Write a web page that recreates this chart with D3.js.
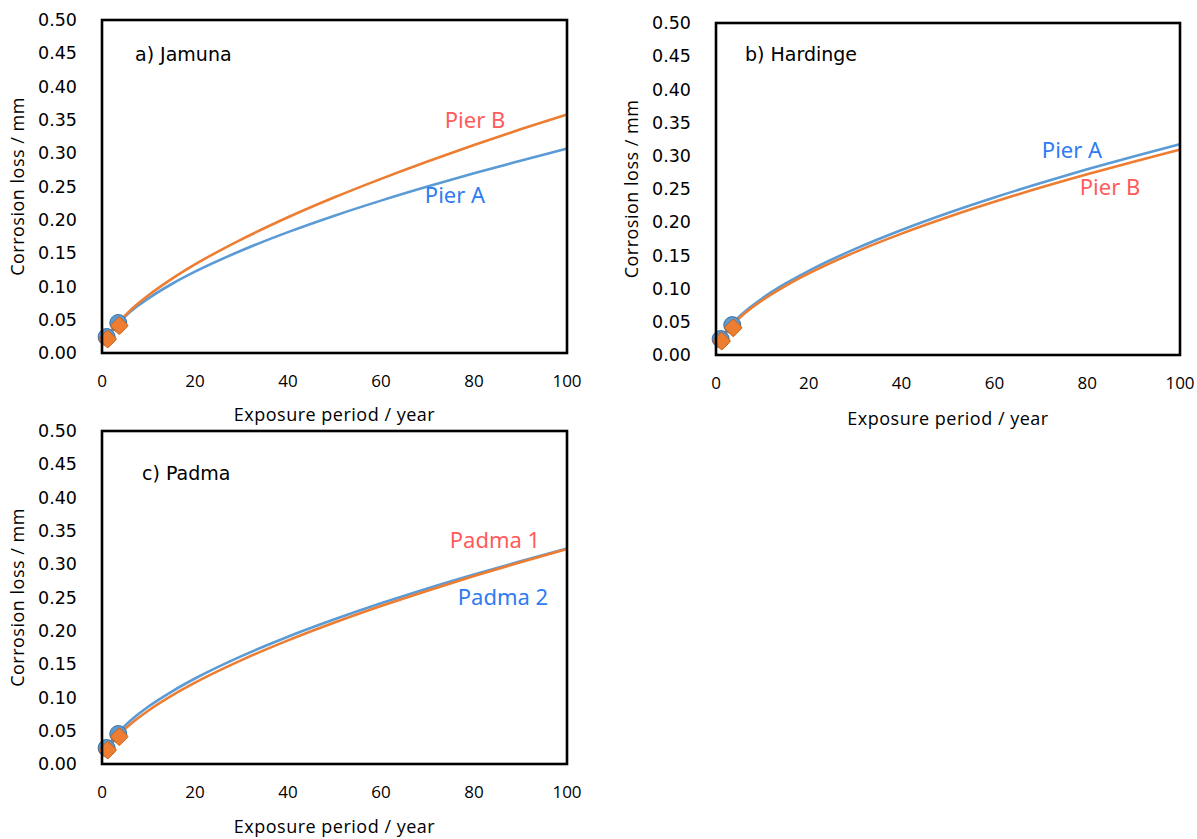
<!DOCTYPE html>
<html>
<head>
<meta charset="utf-8">
<script src="https://cdn.jsdelivr.net/npm/d3@7"></script>
<style>
  body { margin: 0; background: #fff; }
  svg { display: block; }
</style>
</head>
<body>
<div id="chart"></div>
<script>
// Data

// Exposure period (years) at which the curves were read
const years = [0.5, 1, 2, 3.5, 5, 7.5, 10, 15, 20, 30, 40, 50, 60, 70, 80, 90, 100];

// a) Jamuna
const jamunaPierA = [0.0148, 0.022, 0.0327, 0.045, 0.0552, 0.0697, 0.0821, 0.1036, 0.1221, 0.1539, 0.1815, 0.2062, 0.2288, 0.2499, 0.2698, 0.2886, 0.307];
const jamunaPierB = [0.0137, 0.021, 0.0322, 0.0454, 0.0566, 0.0727, 0.0867, 0.1113, 0.133, 0.1706, 0.2038, 0.2338, 0.2615, 0.2876, 0.3123, 0.3358, 0.358];

// b) Hardinge
const hardingePierA = [0.0155, 0.023, 0.0341, 0.047, 0.0576, 0.0725, 0.0855, 0.1077, 0.1268, 0.1598, 0.1883, 0.2139, 0.2373, 0.259, 0.2796, 0.299, 0.3175];
const hardingePierB = [0.0148, 0.022, 0.0328, 0.0452, 0.0554, 0.0699, 0.0825, 0.1041, 0.1228, 0.155, 0.1828, 0.2078, 0.2307, 0.2521, 0.2721, 0.2911, 0.3094];

// c) Padma
const padma1 = [0.0132, 0.02, 0.0304, 0.0426, 0.0529, 0.0675, 0.0804, 0.1027, 0.1222, 0.156, 0.1856, 0.2124, 0.2372, 0.2603, 0.2822, 0.303, 0.3229];
const padma2 = [0.0155, 0.023, 0.0342, 0.0472, 0.0579, 0.0731, 0.0863, 0.1088, 0.1284, 0.162, 0.1911, 0.2172, 0.2413, 0.2636, 0.2845, 0.3043, 0.3234];

// Measured points (year, loss): blue circles and orange squares
const measuredYears = [1, 3.5];
const measuredBlue = [0.024, 0.045];
const measuredOrange = [0.021, 0.041];

// Ticks
const xTicks = [0, 20, 40, 60, 80, 100];
const yTicks = [0, 0.05, 0.1, 0.15, 0.2, 0.25, 0.3, 0.35, 0.4, 0.45, 0.5];

// Colours
const lineBlue = "#5B9BD5";
const lineOrange = "#ED7D31";
const textRed = "#FF5B5B";
const textBlue = "#2E7BF2";

// Panel layout (pixel boxes of the plot areas)
const panels = [
  {
    title: "a) Jamuna", left: 102, top: 20, right: 567, bottom: 353,
    blue: jamunaPierA, orange: jamunaPierB,
    labels: [
      { text: "Pier B", color: textRed, x: 475, y: 128 },
      { text: "Pier A", color: textBlue, x: 455, y: 203 },
    ],
    xTitleY: 421, titleX: 135, titleY: 61,
  },
  {
    title: "b) Hardinge", left: 716, top: 23, right: 1180, bottom: 355,
    blue: hardingePierA, orange: hardingePierB,
    labels: [
      { text: "Pier A", color: textBlue, x: 1072, y: 158 },
      { text: "Pier B", color: textRed, x: 1110, y: 195 },
    ],
    xTitleY: 425, titleX: 745, titleY: 61,
  },
  {
    title: "c) Padma", left: 102, top: 431, right: 567, bottom: 764,
    blue: padma2, orange: padma1,
    labels: [
      { text: "Padma 1", color: textRed, x: 495, y: 548 },
      { text: "Padma 2", color: textBlue, x: 503, y: 605 },
    ],
    xTitleY: 833, titleX: 142, titleY: 480,
  },
];

const width = 1197;
const height = 839;

const svg = d3
  .select("#chart")
  .append("svg")
  .attr("width", width)
  .attr("height", height);

function drawPanel(p) {
  const x = d3.scaleLinear().domain([0, 100]).range([p.left, p.right]);
  const y = d3.scaleLinear().domain([0, 0.5]).range([p.bottom, p.top]);
  const g = svg.append("g");

  // y tick labels
  g.append("g")
    .selectAll("text")
    .data(yTicks)
    .join("text")
    .attr("x", p.left - 25)
    .attr("y", (d) => y(d))
    .attr("dy", "0.35em")
    .attr("text-anchor", "end")
    .attr("font-family", "DejaVu Sans")
    .attr("font-size", 17.5)
    .attr("fill", "#000")
    .text((d) => d.toFixed(2));

  // x tick labels
  g.append("g")
    .selectAll("text")
    .data(xTicks)
    .join("text")
    .attr("x", (d) => x(d))
    .attr("y", p.bottom + 34)
    .attr("text-anchor", "middle")
    .attr("font-family", "Open Sans")
    .attr("font-size", 17)
    .attr("fill", "#000")
    .text((d) => d);

  // Axis titles
  g.append("text")
    .attr("x", (p.left + p.right) / 2)
    .attr("y", p.xTitleY)
    .attr("text-anchor", "middle")
    .attr("font-family", "Open Sans")
    .attr("font-size", 18)
    .attr("letter-spacing", 0.5)
    .text("Exposure period / year");

  g.append("text")
    .attr("transform", `translate(${p.left - 78},${(p.top + p.bottom) / 2}) rotate(-90)`)
    .attr("text-anchor", "middle")
    .attr("font-family", "Open Sans")
    .attr("font-size", 18)
    .attr("letter-spacing", 0.5)
    .text("Corrosion loss / mm");

  // Curves
  const line = (vals) =>
    d3.line()
      .x((d, i) => x(years[i]))
      .y((d) => y(d))
      .curve(d3.curveMonotoneX)(vals);

  g.append("path")
    .attr("d", line(p.blue))
    .attr("fill", "none")
    .attr("stroke", lineBlue)
    .attr("stroke-width", 2.6);

  g.append("path")
    .attr("d", line(p.orange))
    .attr("fill", "none")
    .attr("stroke", lineOrange)
    .attr("stroke-width", 2.6);

  // Measured points
  g.append("g")
    .selectAll("circle")
    .data(measuredBlue)
    .join("circle")
    .attr("cx", (d, i) => x(measuredYears[i]))
    .attr("cy", (d) => y(d))
    .attr("r", 8.5)
    .attr("fill", lineBlue)
    .attr("stroke", "#41719C")
    .attr("stroke-width", 1);

  g.append("g")
    .selectAll("rect")
    .data(measuredOrange)
    .join("rect")
    .attr("x", -6.5)
    .attr("y", -6.5)
    .attr("width", 13)
    .attr("height", 13)
    .attr("rx", 1.5)
    .attr("transform", (d, i) => `translate(${x(measuredYears[i]) + 1},${y(d)}) rotate(45)`)
    .attr("fill", lineOrange)
    .attr("stroke", "#C55A11")
    .attr("stroke-width", 0.8);

  // Plot frame
  g.append("rect")
    .attr("x", p.left)
    .attr("y", p.top)
    .attr("width", p.right - p.left)
    .attr("height", p.bottom - p.top)
    .attr("fill", "none")
    .attr("stroke", "#000")
    .attr("stroke-width", 2.6);

  // Panel title
  g.append("text")
    .attr("x", p.titleX)
    .attr("y", p.titleY)
    .attr("font-family", "DejaVu Sans")
    .attr("font-size", 19)
    .text(p.title);

  // Series labels
  g.append("g")
    .selectAll("text")
    .data(p.labels)
    .join("text")
    .attr("x", (d) => d.x)
    .attr("y", (d) => d.y)
    .attr("text-anchor", "middle")
    .attr("font-family", "Noto Sans")
    .attr("font-size", 22)
    .attr("fill", (d) => d.color)
    .text((d) => d.text);
}

panels.forEach(drawPanel);
</script>
</body>
</html>
